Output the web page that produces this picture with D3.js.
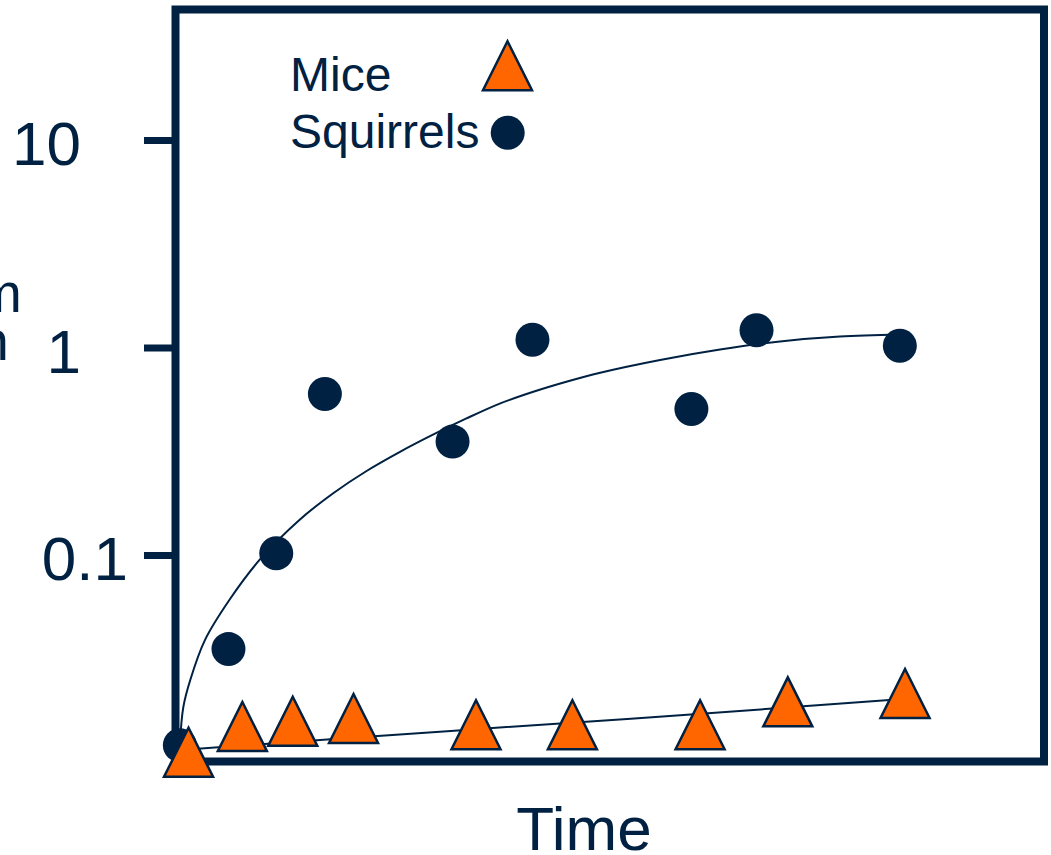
<!DOCTYPE html>
<html>
<head>
<meta charset="utf-8">
<script src="https://cdn.jsdelivr.net/npm/d3@7"></script>
<style>
  body { margin: 0; background: #fff; }
  svg { display: block; }
  text { font-family: 'Liberation Sans', Arial, sans-serif; }
</style>
</head>
<body>
<div id="chart"></div>
<script>
// values (time in arbitrary units, y on a log scale)
const squirrelTime = [0.5, 6.1, 11.6, 17.2, 31.9, 41.1, 59.4, 66.9, 83.4];
const squirrelValue = [0.0121, 0.0352, 0.102, 0.597, 0.352, 1.09, 0.505, 1.21, 1.02];
const miceTime = [1.5, 7.7, 13.5, 20.5, 34.6, 45.7, 60.4, 70.5, 84.0];
const miceValue = [0.0112, 0.0149, 0.0158, 0.0163, 0.0152, 0.0152, 0.0152, 0.0196, 0.0215];

// fitted trend lines
const squirrelFitTime = [0.5, 0.9, 1.7, 3.4, 6.2, 9.7, 14.3, 18.2, 22.0, 25.9, 29.7, 33.5, 37.4, 41.2, 45.0, 48.9, 55.8, 62.7, 69.6, 76.5, 83.4];
const squirrelFitValue = [0.0121, 0.0185, 0.025, 0.039, 0.0607, 0.0949, 0.148, 0.199, 0.254, 0.315, 0.381, 0.455, 0.538, 0.612, 0.684, 0.756, 0.871, 0.978, 1.07, 1.13, 1.155];
const miceFitTime = [0.6, 31.7, 58.1, 83.4];
const miceFitValue = [0.0115, 0.0142, 0.0169, 0.0202];

const yTickValues = [0.1, 1, 10];
const yTickLabels = ['0.1', '1', '10'];
const seriesNames = ['Mice', 'Squirrels'];
const xTitle = 'Time';
const yTitleLines = ['Amount per gram', 'of protein'];

const width = 1051;
const height = 855;
const navy = '#002142';
const orange = '#ff6600';
const frame = {left: 175.5, right: 1044, top: 9.5, bottom: 761.5};

const x = d3.scaleLinear().domain([0, 100]).range([frame.left, frame.right]);
const y = d3.scaleLog().domain([0.01, 10]).range([762.5, 140]);

const triangle = 'M0,-24.5L24.5,24.5L-24.5,24.5Z';

const svg = d3.select('#chart')
  .append('svg')
  .attr('width', width)
  .attr('height', height);

// y title runs off the left edge in the original
svg.selectAll('.y-title')
  .data(yTitleLines)
  .enter()
  .append('text')
  .attr('class', 'y-title')
  .attr('x', (d, i) => i === 0 ? 22 : 9)
  .attr('y', (d, i) => 312 + i * 48)
  .attr('text-anchor', 'end')
  .attr('font-size', 56)
  .attr('fill', navy)
  .text(d => d);

const yAxis = d3.axisLeft(y)
  .tickValues(yTickValues)
  .tickFormat((d, i) => yTickLabels[i])
  .tickSize(28)
  .tickPadding(63);

const axisG = svg.append('g')
  .attr('transform', 'translate(172,0)')
  .call(yAxis)
  .attr('font-size', 62)
  .attr('font-family', "'Liberation Sans', Arial, sans-serif");

axisG.select('.domain').remove();
axisG.selectAll('.tick line')
  .attr('stroke', navy)
  .attr('stroke-width', 7);
axisG.selectAll('.tick text')
  .attr('fill', navy)
  .attr('dy', '0.4em');
// the 0.1 label sits closer to the axis in the original
axisG.selectAll('.tick text')
  .filter(d => d < 1)
  .attr('dx', 47);

// plot frame
svg.append('rect')
  .attr('x', frame.left)
  .attr('y', frame.top)
  .attr('width', frame.right - frame.left)
  .attr('height', frame.bottom - frame.top)
  .attr('fill', 'none')
  .attr('stroke', navy)
  .attr('stroke-width', 8);

const line = d3.line()
  .x(d => x(d[0]))
  .y(d => y(d[1]))
  .curve(d3.curveCatmullRom.alpha(0.5));

svg.append('path')
  .datum(squirrelFitTime.map((t, i) => [t, squirrelFitValue[i]]))
  .attr('d', line)
  .attr('fill', 'none')
  .attr('stroke', navy)
  .attr('stroke-width', 2);

svg.append('path')
  .datum(miceFitTime.map((t, i) => [t, miceFitValue[i]]))
  .attr('d', line)
  .attr('fill', 'none')
  .attr('stroke', navy)
  .attr('stroke-width', 2);

svg.selectAll('.squirrel')
  .data(squirrelTime.map((t, i) => [t, squirrelValue[i]]))
  .enter()
  .append('circle')
  .attr('class', 'squirrel')
  .attr('cx', d => x(d[0]))
  .attr('cy', d => y(d[1]))
  .attr('r', 17)
  .attr('fill', navy);

svg.selectAll('.mouse')
  .data(miceTime.map((t, i) => [t, miceValue[i]]))
  .enter()
  .append('path')
  .attr('class', 'mouse')
  .attr('transform', d => `translate(${x(d[0])},${y(d[1])})`)
  .attr('d', triangle)
  .attr('fill', orange)
  .attr('stroke', navy)
  .attr('stroke-width', 2.5);

// legend
const legend = svg.append('g');
legend.selectAll('text')
  .data(seriesNames)
  .enter()
  .append('text')
  .attr('x', 290)
  .attr('y', (d, i) => 91 + i * 57)
  .attr('font-size', 48)
  .attr('fill', navy)
  .text(d => d);

legend.append('path')
  .attr('transform', 'translate(507.5,65.7)')
  .attr('d', triangle)
  .attr('fill', orange)
  .attr('stroke', navy)
  .attr('stroke-width', 2.5);

legend.append('circle')
  .attr('cx', 507.7)
  .attr('cy', 132.7)
  .attr('r', 17)
  .attr('fill', navy);

svg.append('text')
  .attr('x', 584)
  .attr('y', 850)
  .attr('text-anchor', 'middle')
  .attr('font-size', 62)
  .attr('fill', navy)
  .text(xTitle);
</script>
</body>
</html>
